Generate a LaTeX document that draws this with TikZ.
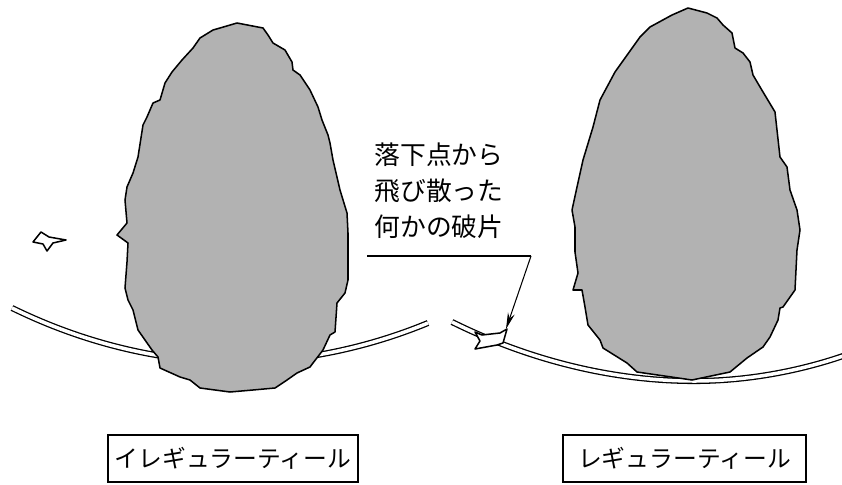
\documentclass[tikz,border=0pt]{standalone}
\usepackage{fontspec}
\newfontfamily\jpfont{Noto Sans CJK JP}
\usetikzlibrary{arrows.meta}
\definecolor{stonegray}{RGB}{178,178,178}

\tikzset{
  stone/.style={fill=stonegray, draw=black, line width=1.3pt, line join=round},
  chip/.style={fill=white, draw=black, line width=1.3pt, line join=round},
  ground/.style={draw=black, double=white, double distance=3pt, line width=1.1pt},
  namebox/.style={draw=black, line width=1pt, minimum height=1.41cm, inner sep=0pt,
    font=\jpfont\fontsize{20.3}{24}\selectfont},
  note/.style={align=left, inner sep=0pt, font=\jpfont\fontsize{22}{30.6}\selectfont}
}

\begin{document}
\begin{tikzpicture}[x=0.03cm, y=-0.03cm]
    \useasboundingbox (0,0) rectangle (842,485);

    \coordinate (L1) at (12,308);
    \coordinate (L2) at (236,362);
    \coordinate (L3) at (428,323);
    \coordinate (R1) at (452,322);
    \coordinate (R2) at (694,381);
    \coordinate (R3) at (846,355);

    % ground surface, broken between the two stones
    \draw[ground] (L1) parabola bend (L2) (L3);
    \draw[ground] (R1) parabola bend (R2) (R3);

    % left stone
    \draw[stone] (237,23) -- (263,28) -- (268,35) -- (273,43) -- (285,50) -- (292,62)
        -- (293,70) -- (300,75) -- (310,90) -- (318,107) -- (322,120) -- (328,135)
        -- (330,143) -- (333,160) -- (340,190) -- (347,213) -- (348,233) -- (348,257)
        -- (348,280) -- (345,293) -- (337,303) -- (335,332) -- (330,335) -- (323,350)
        -- (313,363) -- (310,367) -- (297,373) -- (287,380) -- (275,388) -- (253,390)
        -- (230,392) -- (200,388) -- (190,380) -- (180,377) -- (160,368) -- (158,357)
        -- (152,350) -- (138,330) -- (133,310) -- (128,300) -- (125,288) -- (127,262)
        -- (128,243) -- (117,235) -- (127,223) -- (125,200) -- (127,187) -- (133,173)
        -- (138,157) -- (143,125) -- (147,117) -- (153,103) -- (160,100) -- (165,83)
        -- (172,72) -- (182,60) -- (193,48) -- (200,38) -- (213,30) -- (220,28) -- cycle;

    % right stone
    \draw[stone] (688,8) -- (707,13) -- (717,18) -- (723,25) -- (732,33) -- (735,48)
        -- (743,53) -- (750,62) -- (753,75) -- (763,92) -- (775,112) -- (780,157)
        -- (787,167) -- (790,190) -- (797,210) -- (800,230) -- (797,250) -- (795,290)
        -- (783,307) -- (780,308) -- (778,320) -- (770,337) -- (763,347) -- (747,358)
        -- (730,372) -- (692,380) -- (637,372) -- (627,363) -- (603,348) -- (600,340)
        -- (588,325) -- (585,307) -- (582,290) -- (573,290) -- (578,273) -- (575,252)
        -- (575,227) -- (572,210) -- (577,187) -- (583,160) -- (593,127) -- (600,100)
        -- (615,72) -- (640,37) -- (650,27) -- (672,15) -- cycle;

    % chips
    \draw[chip] (33,242) -- (41,232) -- (49,237) -- (66,240) -- (53,243) -- (47,251)
        -- (43,244) -- cycle;
    \draw[chip] (475,332) -- (482,335) -- (500,333) -- (507,329) -- (503,343)
        -- (497,345) -- (475,349) -- (480,341) -- cycle;
    \coordinate (T) at (506,329);

    % note with pointer
    \node[note] (note) at (439,191) {落下点から\\飛び散った\\何かの破片};
    \coordinate (U1) at (367,256);
    \coordinate (U2) at (531,256);
    \draw[line width=0.9pt] (U1) -- (U2);
    \draw[line width=0.9pt, -{Stealth[length=14pt, width=6pt]}] (U2) -- (T);

    % names
    \node[namebox, minimum width=7.5cm] (irregular) at (233,458.5) {イレギュラーティール};
    \node[namebox, minimum width=7.29cm] (regular) at (684.5,458.5) {レギュラーティール};
\end{tikzpicture}
\end{document}
